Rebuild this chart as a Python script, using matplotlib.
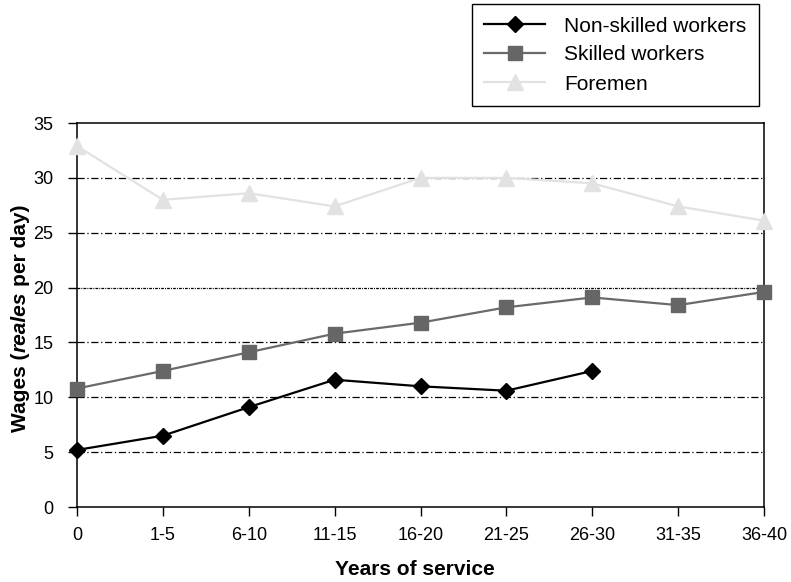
import numpy as np
from matplotlib import pyplot as plt

plt.rcParams['font.family'] = ['Liberation Sans', 'DejaVu Sans']
plt.rcParams['lines.scale_dashes'] = False

# Wages by years of service (reales per day)
categories = ["0", "1-5", "6-10", "11-15", "16-20", "21-25", "26-30", "31-35", "36-40"]
nonSkilled = [5.2, 6.5, 9.1, 11.6, 11.0, 10.6, 12.4]
skilled = [10.8, 12.4, 14.1, 15.8, 16.8, 18.2, 19.1, 18.4, 19.6]
foremen = [32.9, 28.0, 28.6, 27.4, 30.0, 30.0, 29.5, 27.4, 26.1]

W, H = 791, 582
fig = plt.figure(figsize=(W / 100, H / 100), dpi=100)
ax = fig.add_axes([77 / W, 75 / H, 687 / W, 384 / H])

x = np.arange(len(categories))

# dash-dot gridlines, the one at 20 is drawn finer
for v in [5, 10, 15, 25, 30]:
    ax.axhline(v, color='black', lw=0.9, dashes=(5.2, 1.9, 0.9, 1.9), zorder=1)
ax.axhline(20, color='black', lw=0.9, dashes=(2.0, 0.8, 0.7, 0.8), zorder=1)

ax.plot(x[:len(nonSkilled)], nonSkilled, color='black', lw=1.6, marker='D', ms=7.8,
        mfc='black', mec='black', label='Non-skilled workers', zorder=5, clip_on=False)
ax.plot(x[:len(skilled)], skilled, color='#6a6a6a', lw=1.6, marker='s', ms=10.5,
        mfc='#666666', mec='#666666', label='Skilled workers', zorder=4, clip_on=False)
ax.plot(x[:len(foremen)], foremen, color='#e2e2e2', lw=1.6, marker='^', ms=11.5,
        mfc='#e2e2e2', mec='#e2e2e2', label='Foremen', zorder=3, clip_on=False)

ax.set_xlim(0, len(categories) - 1)
ax.set_ylim(0, 35)
ax.set_yticks(range(0, 36, 5))
ax.set_xticks(x, categories)
ax.tick_params(direction='out', length=6.5, width=1, labelsize=13, color='black')
ax.tick_params(axis='x', pad=8)
ax.tick_params(axis='y', pad=10.5)
for s in ax.spines.values():
    s.set_linewidth(1.1)
    s.set_color('black')

leg = ax.legend(loc='upper right', bbox_to_anchor=(759 / W, 1 - 4 / H), bbox_transform=fig.transFigure,
                fontsize=15, frameon=True, fancybox=False, edgecolor='black', framealpha=1,
                borderaxespad=0, borderpad=0.6, handlelength=2.93, handletextpad=0.91, labelspacing=0.48)
leg.get_frame().set_linewidth(1.0)

fig.text(415 / W, 1 - 575 / H, "Years of service", ha='center', va='baseline', fontsize=15, fontweight='bold')

# y label with "reales" in italic, built from rotated pieces
renderer = fig.canvas.get_renderer()
pieces = [("Wages (", 'normal'), ("reales", 'italic'), ("per day)", 'normal')]


def textWidth(s, style):
    t = fig.text(0, 0, s, fontsize=15, fontweight='bold', fontstyle=style)
    w = t.get_window_extent(renderer).width
    t.remove()
    return w


spaceWidth = textWidth("x x", 'normal') - textWidth("xx", 'normal')
widths = [textWidth(s, st) for s, st in pieces]
gaps = [0, 0, spaceWidth]
total = sum(widths) + sum(gaps)
yPos = 264 - total / 2
for (s, st), w, g in zip(pieces, widths, gaps):
    yPos += g
    fig.text(26 / W, yPos / H, s, fontsize=15, fontweight='bold', fontstyle=st, rotation=90,
             rotation_mode='anchor', ha='left', va='baseline')
    yPos += w

fig.savefig("out.png", dpi=100)
